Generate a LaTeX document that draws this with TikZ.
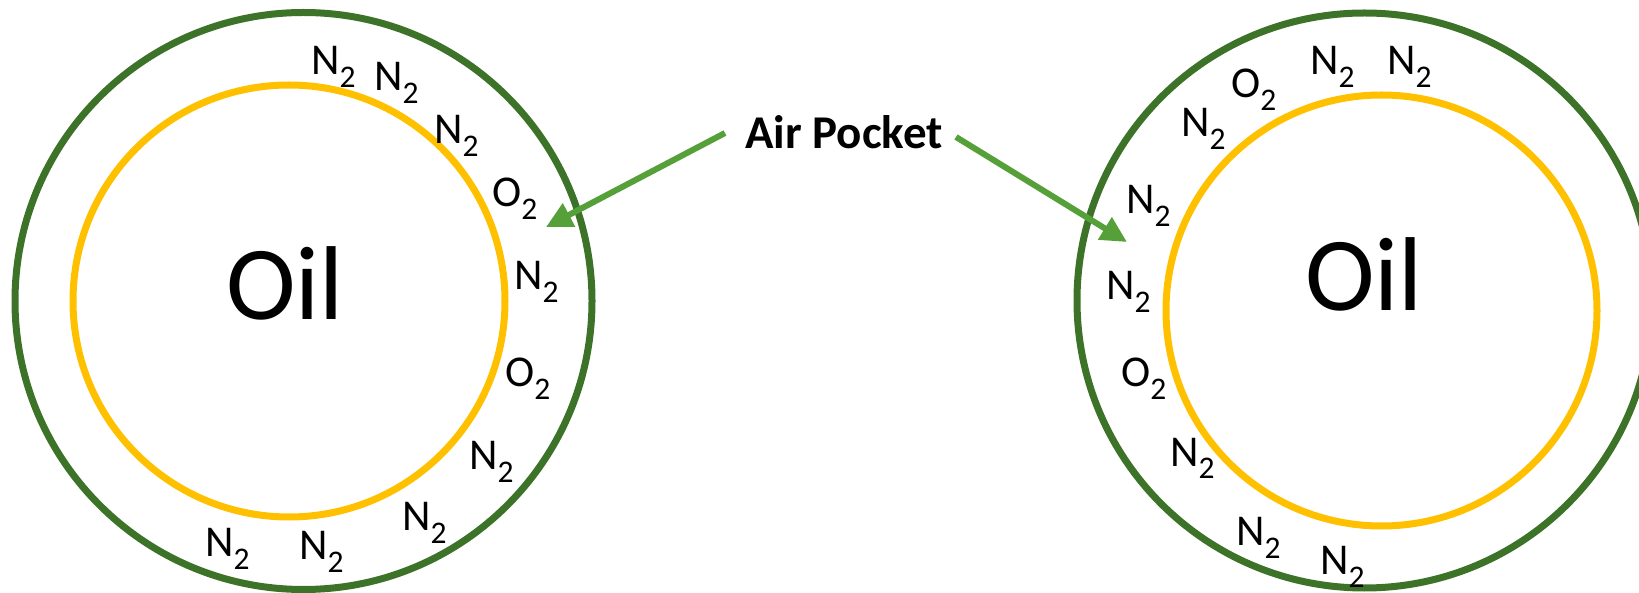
\documentclass[tikz,border=0pt]{standalone}
\usepackage{fontspec}
\setmainfont{Carlito}
\usetikzlibrary{arrows.meta}
\definecolor{ringgreen}{RGB}{61,115,40}
\definecolor{oilyellow}{RGB}{255,192,0}
\definecolor{arrowgreen}{RGB}{86,160,58}
\newcommand{\sbs}[1]{\raisebox{-13pt}{\fontsize{31.5}{31.5}\selectfont #1}}
\tikzset{
  outerring/.style={draw=ringgreen, line width=7pt},
  innerring/.style={draw=oilyellow, line width=7pt},
  gas/.style={inner sep=0pt, anchor=base west, font=\fontsize{44}{44}\selectfont},
  oiltext/.style={inner sep=0pt, anchor=base, font=\fontsize{105}{105}\selectfont},
  airtext/.style={inner sep=0pt, anchor=base, font=\fontsize{47}{47}\selectfont\bfseries},
  pointer/.style={draw=arrowgreen, line width=6pt, -{Triangle[length=26pt,width=25pt]}}
}
\begin{document}
\begin{tikzpicture}[x=1pt,y=-1pt]
\useasboundingbox (0,0) rectangle (1639,593);
\clip (0,0) rectangle (1639,593);
% left assembly
\draw[outerring] (303.5,301) circle (288.5);
\draw[innerring] (289,301) circle (216);
\node[oiltext] (oilL) at (285,320) {Oil};
\node[gas] (l1) at (311,75) {N\sbs{2}};
\node[gas] (l2) at (374,91) {N\sbs{2}};
\node[gas] (l3) at (434,144) {N\sbs{2}};
\node[gas] (l4) at (492,207) {O\sbs{2}};
\node[gas] (l5) at (514,290) {N\sbs{2}};
\node[gas] (l6) at (505,387) {O\sbs{2}};
\node[gas] (l7) at (469,470) {N\sbs{2}};
\node[gas] (l8) at (402,530) {N\sbs{2}};
\node[gas] (l9) at (299,559) {N\sbs{2}};
\node[gas] (l10) at (205,556) {N\sbs{2}};
% right assembly
\draw[outerring] (1364.5,300.5) circle (287.5);
\draw[innerring] (1381.5,310.5) circle (215.5);
\node[oiltext] (oilR) at (1364,311) {Oil};
\node[gas] (r1) at (1310,75) {N\sbs{2}};
\node[gas] (r2) at (1387,75) {N\sbs{2}};
\node[gas] (r3) at (1231,98) {O\sbs{2}};
\node[gas] (r4) at (1181,137) {N\sbs{2}};
\node[gas] (r5) at (1126,214) {N\sbs{2}};
\node[gas] (r6) at (1106,300) {N\sbs{2}};
\node[gas] (r7) at (1121,387) {O\sbs{2}};
\node[gas] (r8) at (1170,466) {N\sbs{2}};
\node[gas] (r9) at (1236,545) {N\sbs{2}};
\node[gas] (r10) at (1320,574) {N\sbs{2}};
% label and pointers
\node[airtext] (air) at (844,149) {Air Pocket};
\coordinate (sL) at (725,133);
\coordinate (tL) at (546,227);
\coordinate (sR) at (956,137);
\coordinate (tR) at (1127,242);
\draw[pointer] (sL) -- (tL);
\draw[pointer] (sR) -- (tR);
\end{tikzpicture}
\end{document}
